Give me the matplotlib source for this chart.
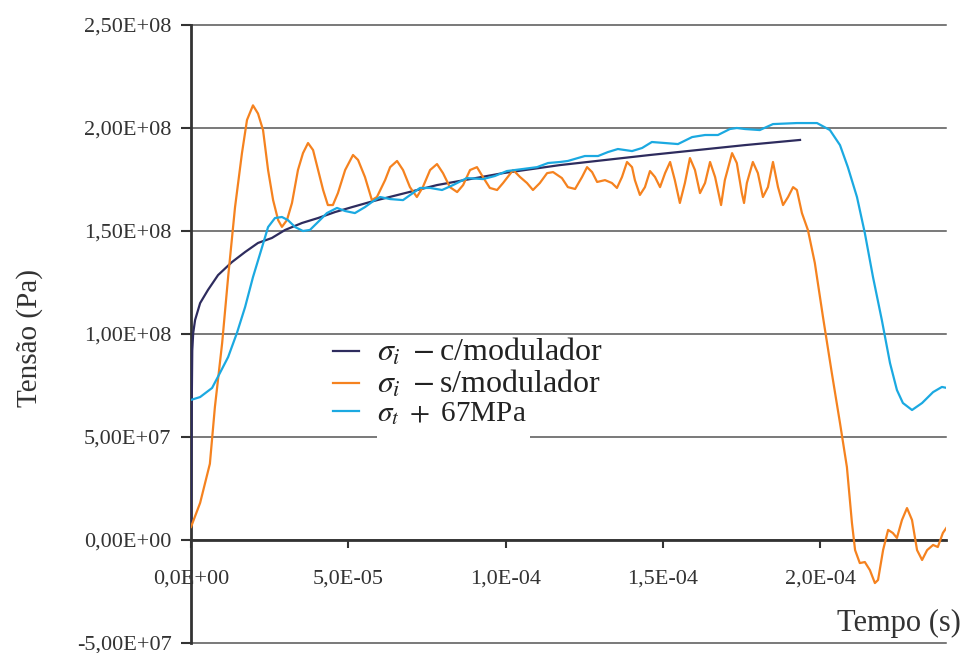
import matplotlib
matplotlib.use("Agg")
import matplotlib.pyplot as plt
from matplotlib.ticker import FuncFormatter, MultipleLocator
from matplotlib.patches import Rectangle

plt.rcParams['font.family'] = ['Liberation Serif', 'DejaVu Serif']
plt.rcParams['mathtext.fontset'] = 'stix'

# --- data (time in microseconds, stress in MPa) ---
t_c = [0, 0.2, 0.4, 0.7, 1.3, 2.9, 5.4, 8.6, 13, 17.2, 21.3, 25.7, 29.9, 35.3, 40.4,
       45.8, 51.2, 57.9, 78.2, 99.2, 117.3, 145.9, 176.1, 193.6]
s_c = [8, 60, 92, 100.5, 106.8, 115, 121.4, 128.6, 134.9, 139.8, 144.2, 146.6, 150.5,
       153.9, 156.3, 159.2, 161.6, 164.5, 172.3, 178.1, 182, 186.9, 191.7, 194.2]

t_s = [0, 2.9, 6, 7.6, 9.9, 11.8, 14, 16.2, 17.8, 19.7, 21.3, 22.9, 24.5, 26.1, 27.7,
       28.9, 30.5, 32.1, 34, 35.6, 37.2, 38.8, 40.4, 42, 43.5, 45.1, 46.7, 49, 51.5,
       53.1, 55.3, 57.5, 59.1, 61.7, 63.3, 65.5, 67.4, 69.6, 71.8, 73.7, 76, 78.2,
       80.1, 82.3, 84.6, 86.5, 88.7, 90.9, 92.8, 95, 97.3, 99.2, 102.4, 104.6, 106.8,
       108.7, 110.9, 113.2, 115.1, 117.9, 119.8, 122.1, 124.3, 125.9, 127.5, 129.1,
       131.6, 133.8, 135.4, 137, 138.6, 140.2, 141.1, 142.7, 144.3, 145.9, 147.5,
       149.1, 150.7, 152.3, 153.8, 155.4, 157, 158.6, 160.2, 161.8, 163.4, 165,
       166.6, 168.5, 169.7, 172, 173.5, 175.1, 175.8, 176.7, 178.6, 180.2, 181.8,
       183.4, 185, 186.6, 188.2, 189.8, 191.4, 192.6, 194.2, 196.1, 198.3, 200.9,
       203.7, 206.3, 208.5, 210.1, 211.1, 212.6, 214.2, 215.8, 217.4, 218.4, 220,
       221.6, 223.1, 224.4, 226, 227.6, 229.2, 230.8, 232.4, 234, 235.9, 237.4, 239,
       240.3]
s_s = [6.3, 18, 37, 64.6, 95.6, 127.6, 161.6, 187.8, 203.9, 211, 207, 199, 179.6, 165,
       155.3, 152, 155.3, 163.6, 179.6, 187.8, 192.7, 189.3, 179.6, 169.9, 162.6, 162.6,
       168.4, 179.6, 186.9, 184.5, 176.2, 165, 166.5, 174.7, 181, 184, 179.6, 171.3,
       166.5, 171.3, 179.6, 182.5, 178.1, 171.3, 168.9, 172.3, 179.6, 181, 176.2, 170.9,
       169.9, 173.3, 179.6, 176.2, 173.3, 169.9, 173.3, 178.1, 178.6, 175.7, 171.3,
       170.4, 176.2, 181, 178.6, 173.8, 174.7, 173.3, 170.9, 176.2, 183.5, 181, 174.7,
       167.5, 171.3, 179.1, 176.2, 171.3, 178.1, 183.5, 174.7, 163.6, 173.3, 185.4,
       179.6, 168.4, 173.3, 183.5, 176.2, 162.6, 174.7, 187.8, 183, 168.4, 163.6,
       173.3, 183.5, 178.1, 166.5, 171.3, 183.5, 171.3, 162.6, 166.5, 171.3, 169.9,
       158.7, 150.5, 134.5, 108.2, 81.1, 56.8, 35.4, 8.3, -4.9, -11.2, -10.7, -14.6,
       -20.9, -19.4, -4.9, 4.9, 3.4, 1, 9.7, 15.5, 9.7, -4.9, -9.7, -4.9, -2.4, -3.4,
       3.4, 6.3]

t_t = [0, 2.9, 6.7, 9.2, 11.8, 14.6, 17.2, 19.7, 22.6, 24.5, 26.7, 28.9, 30.8, 33.1,
       35.6, 37.8, 40.4, 43.2, 46.4, 49, 52.1, 55.3, 57.9, 60.1, 63.3, 67.4, 72.8, 76,
       79.8, 83.3, 87.7, 92.8, 96.6, 100.4, 105.5, 110, 113.5, 117.3, 119.8, 125.2,
       129.4, 132.5, 135.7, 140.2, 143.4, 146.5, 150.7, 154.8, 159.3, 163.4, 167.5,
       171.3, 173.5, 176.1, 180.8, 185, 192.6, 199, 203.1, 206.3, 208.8, 211.7, 214.2,
       216.8, 219.6, 222.2, 224.4, 226.3, 229.2, 232.4, 235.9, 238.7, 240.3]
s_t = [68, 69.4, 73.8, 81.1, 88.8, 100.5, 113.1, 127.6, 142.2, 151.9, 156.3, 156.8,
       155.3, 151.9, 150, 150.5, 154.4, 158.7, 161.2, 159.7, 158.7, 161.6, 164.5, 166.5,
       165.5, 165, 170.9, 170.9, 169.9, 172.3, 175.7, 175.2, 176.7, 179.1, 180.1, 181,
       183, 183.5, 184, 186.4, 186.4, 188.3, 189.8, 188.8, 190.3, 193.2, 192.7, 192.2,
       195.6, 196.6, 196.6, 199.5, 200, 199.5, 199, 201.9, 202.4, 202.4, 199, 191.7,
       181, 166.5, 149, 127.6, 106.8, 85.9, 72.8, 66.5, 63.1, 66.5, 71.8, 74.3, 73.8]

labels = [r'$\sigma_i\ -$c/modulador', r'$\sigma_i\ -$s/modulador', r'$\sigma_t\ +\ $67MPa']
colors = ['#2E2C5E', '#F5821F', '#1BA9E1']

W, H = 964, 653
fig = plt.figure(figsize=(W / 100, H / 100), dpi=100)
ax = fig.add_axes([191 / W, 1 - 643 / H, (946 - 191) / W, (643 - 25) / H])

for t, s, c, lab in [(t_c, s_c, colors[0], labels[0]),
                     (t_s, s_s, colors[1], labels[1]),
                     (t_t, s_t, colors[2], labels[2])]:
    ax.plot([v * 1e-6 for v in t], [v * 1e6 for v in s], color=c, lw=1.6, label=lab,
            zorder=3)

ax.set_xlim(0, 2.4e-4)
ax.set_ylim(-5.0e7, 2.5e8)
ax.yaxis.set_major_locator(MultipleLocator(5e7))
ax.xaxis.set_major_locator(MultipleLocator(5e-5))
ax.yaxis.set_major_formatter(FuncFormatter(lambda v, p: f"{v:.2E}".replace('.', ',')))
ax.xaxis.set_major_formatter(FuncFormatter(lambda v, p: f"{v:.1E}".replace('.', ',')))

ax.spines['top'].set_visible(False)
ax.spines['right'].set_visible(False)
ax.spines['left'].set_color('#333333')
ax.spines['left'].set_linewidth(2)
ax.spines['bottom'].set_position(('data', 0))
ax.spines['bottom'].set_color('#333333')
ax.spines['bottom'].set_linewidth(2)

ax.yaxis.grid(True, color='#555555', lw=1.1)
for gl in ax.yaxis.get_gridlines():
    gl.set_clip_on(False)
ax.tick_params(axis='y', direction='out', length=7, width=1.5, color='#333333',
               labelsize=16, labelcolor='#333333', pad=7)
ax.tick_params(axis='x', direction='out', length=6, width=1.5, color='#333333',
               labelsize=16, labelcolor='#333333', pad=15)

ax.add_patch(Rectangle((5.91e-5, 4.6e7), 1.078e-4 - 5.91e-5, 0.8e7, facecolor='white',
                       edgecolor='none', zorder=1.8))

leg = ax.legend(loc='upper left', bbox_to_anchor=(333 / W, 1 - 337 / H),
                bbox_transform=fig.transFigure, frameon=False, fontsize=21,
                handlelength=0.9, handletextpad=0.6, labelspacing=0.02,
                borderpad=0, borderaxespad=0)
for i, txt in enumerate(leg.get_texts()):
    txt.set_color('#222222')
    if i < 2:
        txt.set_fontsize(23)

fig.text(30 / W, 1 - 338 / H, 'Tensão (Pa)', rotation=90, ha='center', va='center',
         fontsize=21, color='#333333')
fig.text(961 / W, 1 - 623 / H, 'Tempo (s)', ha='right', va='center', fontsize=22,
         color='#333333')

fig.savefig('out.png', dpi=100)
